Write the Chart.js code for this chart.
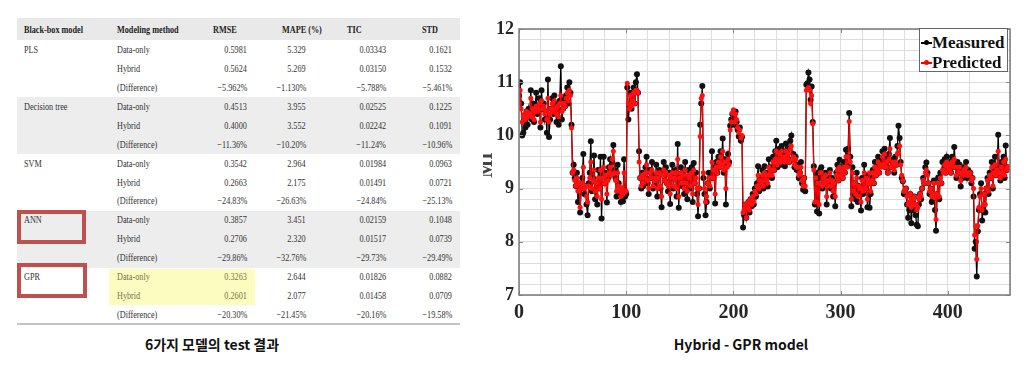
<!DOCTYPE html>
<html><head><meta charset="utf-8">
<script src="https://cdn.jsdelivr.net/npm/chart.js@4"></script>
<style>
html,body{margin:0;padding:0;background:#fff;}
body{width:1026px;height:380px;position:relative;overflow:hidden;font-family:'Liberation Serif',serif;}
.abs{position:absolute;white-space:nowrap;}
.t{position:absolute;white-space:nowrap;font-size:10.5px;line-height:12px;color:#333;transform-origin:0 50%;transform:translateY(-50%) scaleX(.78);}
.t.r{transform-origin:100% 50%;}
.t.b{font-weight:bold;color:#222;}
.t.y{color:#74744a;}
.cap{position:absolute;font-family:'Noto Sans CJK KR','Noto Sans',sans-serif;font-weight:bold;font-size:14px;color:#111;white-space:nowrap;transform:translate(-50%,-50%);line-height:18px;}
.lg{position:absolute;font-family:'Liberation Serif',serif;font-weight:bold;font-size:17px;line-height:20px;color:#111;transform:translateY(-50%);}
</style>
</head><body>
<div id="tbl"></div>
<div class="abs" style="left:480px;top:0;width:546px;height:330px;"><canvas id="c" width="546" height="330" style="width:546px;height:330px;"></canvas></div>
<div class="abs" style="left:483px;top:140px;width:9px;height:50px;overflow:hidden;">
  <div style="position:absolute;left:-4px;top:25px;transform-origin:0 0;transform:rotate(-90deg) translate(-50%,0);font:bold 19px 'Liberation Serif',serif;color:#444;line-height:14px;">MI</div>
</div>
<div class="abs" style="left:919px;top:28px;width:89px;height:44px;border:1px solid #666;background:#fff;box-sizing:border-box;"></div>
<div class="abs" style="left:921px;top:42px;width:11px;height:1.5px;background:#000;"></div>
<div class="abs" style="left:924px;top:40px;width:5px;height:5px;border-radius:50%;background:#000;"></div>
<div class="lg" style="left:932px;top:43px;">Measured</div>
<div class="abs" style="left:921px;top:62px;width:11px;height:1.5px;background:#f00;"></div>
<div class="abs" style="left:924px;top:60px;width:5px;height:5px;border-radius:50%;background:#f00;"></div>
<div class="lg" style="left:932px;top:63px;">Predicted</div>
<div class="cap" style="left:212px;top:344px;">6가지 모델의 test 결과</div>
<div class="cap" style="left:741px;top:344px;">Hybrid - GPR model</div>
<script>
// ---- table data ----
const headers = ['Black-box model','Modeling method','RMSE','MAPE (%)','TIC','STD'];
const models = ['PLS','Decision tree','SVM','ANN','GPR'];
const methods = ['Data-only','Hybrid','(Difference)'];
const rmse = ['0.5981','0.5624','\u22125.962%','0.4513','0.4000','\u221211.36%','0.3542','0.2663','\u221224.83%','0.3857','0.2706','\u221229.86%','0.3263','0.2601','\u221220.30%'];
const mape = ['5.329','5.269','\u22121.130%','3.955','3.552','\u221210.20%','2.964','2.175','\u221226.63%','3.451','2.320','\u221232.76%','2.644','2.077','\u221221.45%'];
const tic = ['0.03343','0.03150','\u22125.788%','0.02525','0.02242','\u221211.24%','0.01984','0.01491','\u221224.84%','0.02159','0.01517','\u221229.73%','0.01826','0.01458','\u221220.16%'];
const stdv = ['0.1621','0.1532','\u22125.461%','0.1225','0.1091','\u221210.96%','0.0963','0.0721','\u221225.13%','0.1048','0.0739','\u221229.49%','0.0882','0.0709','\u221219.58%'];

// ---- chart data ----
const measured = [
10.75,11.0,10.6,10.0,10.05,10.3,10.15,10.45,10.2,10.5,
10.35,10.85,10.3,10.6,10.25,10.5,10.8,10.4,10.55,10.7,
10.15,10.85,10.5,10.6,10.3,10.45,10.05,11.05,9.97,10.3,
10.5,10.7,10.4,10.75,10.55,10.25,10.6,10.2,10.65,11.3,
10.3,10.5,10.7,10.55,10.75,10.9,10.6,11.0,10.8,10.2,
9.3,9.45,9.2,9.05,9.3,8.75,9.1,8.55,9.0,9.2,
9.65,8.9,9.05,8.7,8.5,9.1,9.3,9.89,8.95,9.2,
9.62,8.8,9.1,8.7,9.35,9.0,9.6,8.44,9.25,9.6,
9.1,9.3,8.74,9.2,9.4,9.55,9.3,9.5,9.82,9.35,
9.2,8.85,9.45,9.1,8.9,8.75,9.0,8.76,9.55,8.85,
8.9,10.9,10.3,10.55,10.8,10.5,10.7,10.9,10.6,11.0,
11.15,10.8,9.7,9.2,9.0,9.3,9.05,9.2,9.4,9.6,
9.1,8.9,9.35,9.2,9.5,9.0,9.25,9.1,9.45,8.85,
9.2,9.35,9.0,8.65,9.3,9.5,9.15,9.4,9.1,8.95,
9.3,8.71,9.2,9.45,9.0,9.25,9.35,8.85,9.84,8.64,
9.2,9.4,9.05,9.3,8.9,9.5,9.1,8.8,9.35,9.2,
9.0,9.4,8.75,9.48,9.1,9.3,8.9,8.48,9.0,10.2,
10.6,10.93,9.2,8.9,8.5,8.75,9.1,9.3,9.0,9.2,
9.7,9.2,9.4,8.72,9.5,9.3,9.6,9.4,9.7,9.5,
9.94,9.3,9.55,8.7,9.45,9.65,9.5,10.18,10.3,10.4,
10.33,10.2,10.45,10.25,10.1,9.98,10.15,9.9,9.97,8.27,
8.5,8.7,8.45,8.6,8.75,8.55,8.8,8.67,8.9,8.7,
9.0,8.85,9.1,9.42,8.95,9.2,9.05,9.35,9.0,9.42,
9.1,9.3,9.04,9.55,9.25,9.4,9.2,9.6,9.35,9.7,
9.9,9.4,9.6,9.75,9.45,9.8,9.55,9.7,9.42,9.85,
9.6,9.75,9.5,9.9,10.0,9.55,9.65,9.4,9.6,9.35,
9.45,9.2,9.3,9.5,9.1,8.98,9.2,8.95,10.95,10.98,
11.18,11.05,10.67,10.92,10.25,9.42,8.7,9.3,8.57,9.2,
8.53,9.35,9.4,9.0,9.25,9.1,9.3,8.7,9.2,9.05,
9.35,9.0,9.2,8.85,9.1,8.67,9.3,9.45,9.15,9.54,
9.3,9.4,9.2,9.5,9.3,9.73,9.45,9.75,10.42,9.6,
8.67,9.4,8.9,9.1,8.8,9.3,8.75,9.05,8.95,8.59,
9.2,8.9,9.45,9.0,9.25,8.65,9.1,8.64,8.9,9.2,
9.35,9.1,9.5,9.25,9.4,9.6,9.3,9.55,9.45,9.7,
9.5,9.75,9.4,9.6,9.3,9.65,9.95,9.4,9.5,9.55,
9.3,9.6,9.45,9.8,10.18,9.95,9.5,9.2,9.14,8.9,
8.95,9.0,8.7,8.45,8.6,8.9,8.35,8.75,8.6,8.85,
8.5,8.32,8.29,8.7,8.9,8.8,9.0,9.2,9.1,9.4,
9.49,9.3,9.1,8.9,9.0,8.75,8.8,9.15,8.6,8.21,
8.9,9.21,8.8,9.3,9.1,9.5,9.35,9.55,9.3,9.6,
9.45,9.35,9.5,9.3,9.6,9.4,9.78,9.45,9.2,9.5,
9.3,9.45,9.04,9.35,9.2,9.4,9.3,9.5,9.2,9.35,
9.25,9.3,9.1,9.2,8.85,7.87,8.0,7.35,8.2,8.6,
8.9,9.1,8.4,8.6,8.9,8.55,9.0,9.2,8.9,9.3,
9.2,9.5,9.0,9.35,9.6,9.25,9.4,10.01,9.3,9.15,
9.5,9.3,9.6,9.2,9.81,9.35,9.4
];
const predicted = [
10.6,10.85,10.5,10.25,10.35,10.4,10.3,10.45,10.35,10.4,
10.4,10.7,10.35,10.5,10.3,10.45,10.55,10.45,10.5,10.6,
10.25,10.65,10.5,10.55,10.4,10.45,10.3,10.7,10.25,10.4,
10.5,10.6,10.45,10.65,10.5,10.4,10.55,10.35,10.6,10.75,
10.45,10.5,10.6,10.55,10.7,10.8,10.65,10.85,10.75,10.14,
9.3,9.35,9.15,9.05,9.2,8.95,9.1,8.65,9.0,9.1,
9.4,9.0,9.05,8.85,8.75,9.05,9.2,9.5,9.0,9.15,
9.35,8.95,9.1,8.85,9.2,9.0,9.35,8.8,9.2,9.4,
9.1,9.25,8.9,9.15,9.3,9.4,9.25,9.55,9.7,9.3,
9.15,8.95,9.3,9.05,8.95,8.85,9.0,8.9,9.3,8.95,
8.95,10.98,10.6,10.5,10.75,10.55,10.65,10.8,10.6,10.85,
10.85,10.8,9.5,9.2,9.05,9.25,9.1,9.2,9.3,9.45,
9.15,9.0,9.3,9.2,9.35,9.05,9.2,9.15,9.3,9.0,
9.2,9.3,9.05,8.85,9.25,9.35,9.15,9.3,9.1,9.05,
9.25,8.9,9.2,9.3,9.05,9.2,9.3,9.0,9.55,8.85,
9.2,9.3,9.1,9.25,9.0,9.35,9.1,8.95,9.25,9.2,
9.05,9.3,8.9,9.35,9.1,9.2,9.0,8.7,9.0,9.98,
10.7,10.75,9.3,9.0,8.75,8.85,9.1,9.2,9.05,9.2,
9.5,9.2,9.35,8.9,9.4,9.3,9.5,9.4,9.6,9.45,
9.7,9.35,9.5,9.0,9.4,9.55,9.45,10.1,10.25,10.42,
10.48,10.25,10.4,10.3,10.15,10.05,10.1,9.95,10.0,8.55,
8.6,8.7,8.45,8.65,8.75,8.6,8.8,8.7,8.85,8.75,
8.95,8.9,9.05,9.25,9.0,9.15,9.1,9.25,9.05,9.3,
9.15,9.25,9.1,9.4,9.25,9.35,9.25,9.5,9.35,9.55,
9.7,9.45,9.55,9.65,9.5,9.7,9.55,9.6,9.5,9.7,
9.55,9.65,9.5,9.75,9.8,9.55,9.6,9.45,9.55,9.4,
9.4,9.25,9.3,9.4,9.15,9.05,9.2,9.05,10.85,10.87,
10.9,10.85,10.6,10.75,10.22,9.35,8.75,9.2,8.75,9.1,
8.7,9.3,9.3,9.05,9.2,9.1,9.25,8.85,9.15,9.05,
9.3,9.05,9.15,8.95,9.1,8.85,9.25,9.35,9.15,9.4,
9.25,9.35,9.2,9.4,9.3,9.6,9.4,9.6,10.26,9.5,
8.8,9.3,8.95,9.1,8.9,9.2,8.85,9.05,9.0,8.75,
9.15,8.95,9.3,9.0,9.2,8.8,9.1,9.3,8.95,9.15,
9.3,9.1,9.4,9.25,9.35,9.5,9.3,9.45,9.4,9.6,
9.45,9.65,9.4,9.5,9.3,9.55,9.75,9.4,9.45,9.5,
9.35,9.5,9.45,9.65,9.67,9.8,9.45,9.25,9.15,8.95,
8.95,9.0,8.85,8.7,8.75,8.9,8.65,8.8,8.7,8.85,
8.7,8.6,8.65,8.8,8.9,8.85,9.0,9.15,9.1,9.3,
9.35,9.25,9.1,8.95,9.0,8.85,8.9,9.1,8.83,8.42,
8.9,9.1,8.85,9.2,9.1,9.35,9.3,9.45,9.3,9.5,
9.4,9.35,9.45,9.3,9.5,9.4,9.55,9.4,9.25,9.4,
9.3,9.4,9.15,9.3,9.25,9.35,9.3,9.4,9.25,9.3,
9.25,9.3,9.15,9.2,9.0,8.13,8.3,7.67,8.3,8.65,
8.85,9.0,8.6,8.7,8.9,8.7,9.0,9.15,8.95,9.25,
9.2,9.4,9.05,9.3,9.45,9.25,9.35,9.7,9.3,9.2,
9.4,9.3,9.5,9.25,9.55,9.35,9.4
];
const xTickLabels = [0,100,200,300,400];
const yTickLabels = [7,8,9,10,11,12];
const xMin = 0, xMax = 458, yMin = 7, yMax = 12;

// ---- build table ----
(function(){
  const tbl = document.getElementById('tbl');
  const W = 1026;
  function box(x,y,w,h,st){const d=document.createElement('div');d.className='abs';d.style.cssText+=`left:${x}px;top:${y}px;width:${w}px;height:${h}px;`+st;tbl.appendChild(d);}
  function txt(s,x,y,cls,right){const d=document.createElement('div');d.className='t '+(cls||'')+(right?' r':'');d.textContent=s;d.style.top=y+'px';if(right){d.style.right=(W-x)+'px';}else{d.style.left=x+'px';}tbl.appendChild(d);}
  const rowY = k => 50 + k*18.93;
  box(17,18,443,22,'background:#e9e9e9;');
  box(17,rowY(3)-9.5,443,rowY(5)-rowY(3)+19,'background:#ededed;');
  box(17,rowY(9)-9.5,443,rowY(11)-rowY(9)+19,'background:#ededed;');
  box(109,269,146,36,'background:#fdfcc0;');
  box(17,323,443,2,'background:#c4c4c4;');
  const hx = [24,117,213,282,347,422];
  headers.forEach((h,i)=>txt(h,hx[i],30,'b'));
  const cols = [rmse,mape,tic,stdv];
  const rx = [247,306,386,452];
  for(let k=0;k<15;k++){
    const y = rowY(k);
    const hl = (k===12||k===13);
    if(k%3===0) txt(models[k/3],24,y);
    txt(methods[k%3],117,y,hl?'y':'');
    cols.forEach((c,j)=>txt(c[k],rx[j],y,(hl&&j===0)?'y':'',true));
  }
  box(17,210,69,34,'border:4px solid #c0504d;box-sizing:border-box;');
  box(17,263,70,35,'border:4px solid #c0504d;box-sizing:border-box;');
})();

// ---- chart ----
const boxPlugin = {
  id:'boxPlugin',
  afterDatasetsDraw(chart){
    const {ctx, chartArea:a, scales:{x,y}} = chart;
    ctx.save();
    ctx.strokeStyle = '#8a8a8a'; ctx.lineWidth = 1;
    xTickLabels.forEach(v=>{const px=Math.round(x.getPixelForValue(v))+0.5;
      ctx.beginPath();ctx.moveTo(px,a.bottom);ctx.lineTo(px,a.bottom-4);ctx.moveTo(px,a.top);ctx.lineTo(px,a.top+4);ctx.stroke();});
    yTickLabels.forEach(v=>{const py=Math.round(y.getPixelForValue(v))+0.5;
      ctx.beginPath();ctx.moveTo(a.left,py);ctx.lineTo(a.left+4,py);ctx.moveTo(a.right,py);ctx.lineTo(a.right-4,py);ctx.stroke();});
    ctx.strokeStyle = '#7a7a7a'; ctx.lineWidth = 1.5;
    ctx.strokeRect(a.left, a.top, a.right-a.left, a.bottom-a.top);
    ctx.restore();
  }
};
const tickFont = s => ({family:'Liberation Serif', size:s, weight:'bold'});
new Chart(document.getElementById('c'), {
  type:'line',
  data:{datasets:[
    {label:'Measured', data:measured.map((v,i)=>({x:i,y:v})), borderColor:'#000', backgroundColor:'#000', pointBackgroundColor:'#111', pointBorderWidth:0, borderWidth:1.3, pointRadius:3, tension:0, order:2},
    {label:'Predicted', data:predicted.map((v,i)=>({x:i,y:v})), borderColor:'#ff0000', backgroundColor:'#ff0000', pointBackgroundColor:'#ff1010', pointBorderWidth:0, borderWidth:1.1, pointRadius:2.5, tension:0, order:1}
  ]},
  options:{
    responsive:false, animation:false, devicePixelRatio:1,
    layout:{padding:{top:29,right:16,left:0,bottom:0}},
    plugins:{legend:{display:false}, tooltip:{enabled:false}},
    scales:{
      x:{type:'linear', min:xMin, max:xMax,
        afterFit(s){s.height=35;},
        grid:{color:'#dcdcdc', lineWidth:1, drawTicks:false},
        border:{display:false},
        ticks:{stepSize:20, autoSkip:false, maxRotation:0, padding:6, color:'#262626', font:tickFont(20),
          callback:v=> xTickLabels.includes(Math.round(v)) && Math.abs(v-Math.round(v))<1e-6 ? String(Math.round(v)) : ''}},
      y:{type:'linear', min:yMin, max:yMax,
        afterFit(s){s.width=39;},
        grid:{color:'#dcdcdc', lineWidth:1, drawTicks:false},
        border:{display:false},
        ticks:{stepSize:0.2, autoSkip:false, padding:5, color:'#262626', font:tickFont(18),
          callback:v=>{const r=Math.round(v);return (Math.abs(v-r)<1e-6 && yTickLabels.includes(r)) ? String(r) : '';}}}
    }
  },
  plugins:[boxPlugin]
});
</script>
</body></html>
